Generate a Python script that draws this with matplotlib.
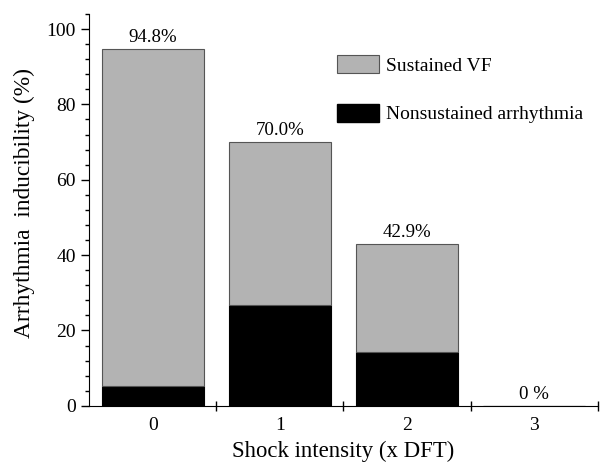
import matplotlib.pyplot as plt
from matplotlib.patches import Patch
from matplotlib.ticker import MultipleLocator, FixedLocator

plt.rcParams['font.family'] = ['Liberation Serif', 'DejaVu Serif']

# data
shock = ["0", "1", "2", "3"]
total = [94.8, 70.0, 42.9, 0.0]
nonsustained = [5.3, 26.7, 14.3, 0.0]
sustained = [t - n for t, n in zip(total, nonsustained)]
labels = ["94.8%", "70.0%", "42.9%", "0 %"]

gray = "#b3b3b3"
edge = "#555555"

fig = plt.figure(figsize=(6.02, 4.67), dpi=100)
ax = fig.add_axes([0.148, 0.131, 0.845, 0.839])

x = range(len(shock))
ax.bar(x, nonsustained, width=0.8, color="black", edgecolor="black", linewidth=0.8)
ax.bar(x, sustained, width=0.8, bottom=nonsustained, color=gray, edgecolor=edge, linewidth=0.8)

for i, t in enumerate(total):
    ax.text(i, t + 0.8, labels[i], ha="center", va="bottom", fontsize=13.6)

ax.set_xlim(-0.5, 3.5)
ax.set_ylim(0, 104)
ax.spines["top"].set_visible(False)
ax.spines["right"].set_visible(False)

ax.set_xticks(list(x))
ax.set_xticklabels(shock, fontsize=14)
ax.tick_params(axis="x", which="major", length=0, pad=8)
ax.xaxis.set_minor_locator(FixedLocator([0.5, 1.5, 2.5, 3.5]))
ax.tick_params(axis="x", which="minor", direction="inout", length=7, width=1)

ax.set_yticks([0, 20, 40, 60, 80, 100])
ax.yaxis.set_minor_locator(MultipleLocator(4))
ax.tick_params(axis="y", which="major", length=6, width=1, labelsize=14)
ax.tick_params(axis="y", which="minor", length=3, width=1)

ax.set_xlabel("Shock intensity (x DFT)", fontsize=16.4, labelpad=5)
ax.set_ylabel("Arrhythmia  inducibility (%)", fontsize=16.8)
ax.yaxis.set_label_coords(-0.106, 0.517)

handles = [Patch(facecolor=gray, edgecolor=edge, linewidth=0.8),
           Patch(facecolor="black", edgecolor="black")]
ax.legend(handles, ["Sustained VF", "Nonsustained arrhythmia"],
          loc="upper left", bbox_to_anchor=(0.452, 0.94), frameon=False,
          fontsize=14, handlelength=2.2, handleheight=1.05,
          labelspacing=1.5, handletextpad=0.35)

fig.savefig("out.png", dpi=100)
